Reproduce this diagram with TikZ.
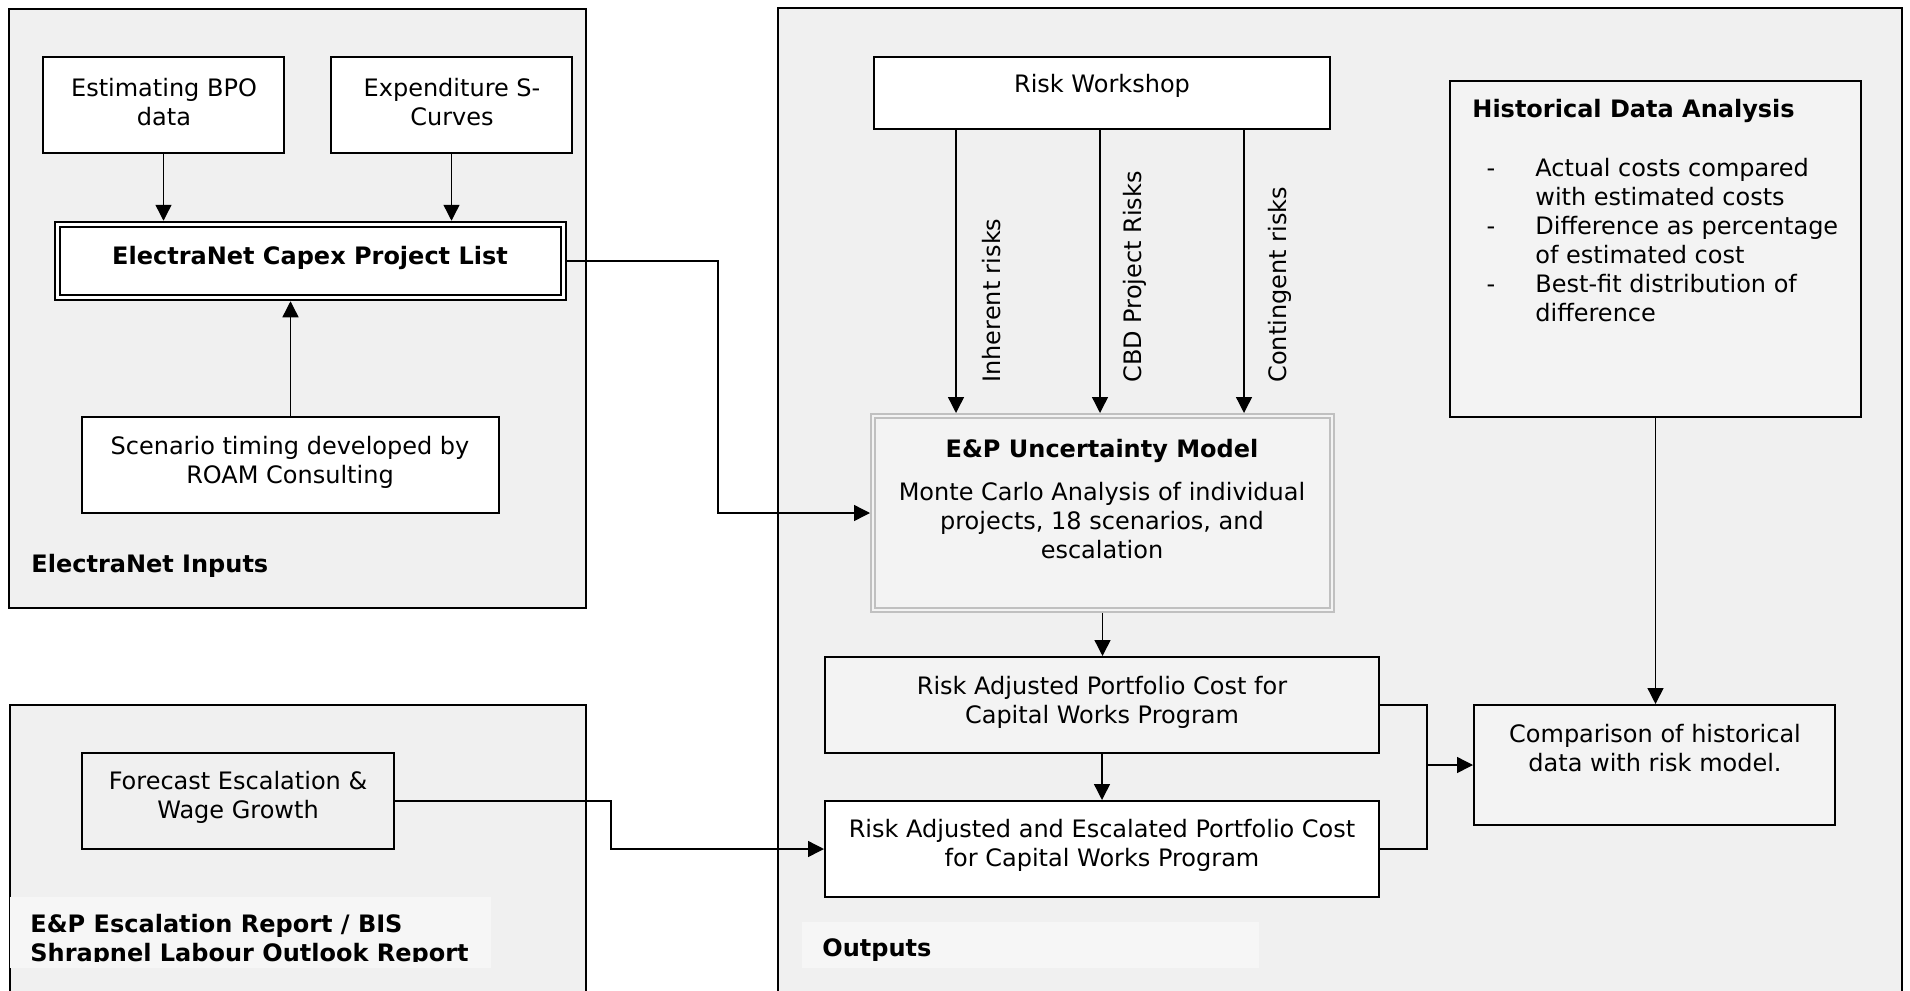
\documentclass[tikz,border=0pt]{standalone}
\usepackage{fontspec}
\setmainfont{DejaVu Sans}
\usetikzlibrary{arrows.meta,fit,calc}
\definecolor{panelgray}{RGB}{240,240,240}
\definecolor{boxgray}{RGB}{243,243,243}
\definecolor{lblgray}{RGB}{246,246,246}
\definecolor{unclines}{RGB}{192,192,192}
\begin{document}
\begin{tikzpicture}[x=0.5pt,y=-0.5pt,
  every node/.style={font=\fontsize{12}{14.5}\selectfont},
  panel/.style={draw=black, line width=1pt, fill=panelgray, inner sep=0pt},
  wbox/.style={draw=black, line width=1pt, fill=white, inner sep=0pt},
  gbox/.style={draw=black, line width=1pt, fill=boxgray, inner sep=0pt},
  pbox/.style={draw=black, line width=1pt, fill=panelgray, inner sep=0pt},
  txt/.style={align=center, inner sep=0pt},
  ltxt/.style={align=left, inner sep=0pt},
  conn/.style={line width=0.7pt},
  arr/.style={conn, -{Triangle[length=8pt,width=8pt]}},
]
\path[use as bounding box] (0,0) rectangle (1910,990);
\fill[white] (0,0) rectangle (1910,990);
\clip (0,0) rectangle (1910,990);

% ---------- panels ----------
\node[panel, fit={(9,9) (586,608)}] (pin) {};
\node[panel, fit={(10,705) (586,1010)}] (pesc) {};
\node[panel, fit={(778,8) (1902,1010)}] (pout) {};

% ---------- ElectraNet Inputs ----------
\node[wbox, fit={(43,57) (284,153)}] (est) {};
\node[txt] (esttxt) at (164,102) {Estimating BPO\\data};
\node[wbox, fit={(331,57) (572,153)}] (exp) {};
\node[txt] (exptxt) at (452,102) {Expenditure S-\\Curves};
\node[wbox, line width=1.25pt, fit={(55,222) (566,300)}] (capex) {};
\draw[line width=1pt] ([shift={(6,6)}]capex.north west) rectangle ([shift={(-6,-6)}]capex.south east);
\node[txt, font=\fontsize{12}{14.5}\selectfont\bfseries] (capextxt) at (310,258) {ElectraNet Capex Project List};
\node[wbox, fit={(82,417) (499,513)}] (scen) {};
\node[txt] (scentxt) at (290,462) {Scenario timing developed by\\ROAM Consulting};
\node[ltxt, anchor=west, font=\fontsize{12}{14.5}\selectfont\bfseries] (inlbl) at (31,566) {ElectraNet Inputs};

\draw[arr] (est.south) -- (est.south |- capex.north);
\draw[arr] (exp.south) -- (exp.south |- capex.north);
\draw[arr] (scen.north) -- (scen.north |- capex.south);

% ---------- Escalation panel ----------
\node[pbox, fit={(82,753) (394,849)}] (fc) {};
\node[txt] (fctxt) at (238,797) {Forecast Escalation \&\\Wage Growth};
\fill[lblgray] (10,897) rectangle (491,968);
\begin{scope}
  \clip (10,897) rectangle (491,961);
  \node[ltxt, anchor=north west, font=\fontsize{12}{14.5}\selectfont\bfseries] (esclbl) at (30,914) {E\&P Escalation Report / BIS\\Shrapnel Labour Outlook Report};
\end{scope}

% ---------- Outputs panel ----------
\node[wbox, fit={(874,57) (1330,129)}] (rw) {};
\node[txt] (rwtxt) at (1102,86) {Risk Workshop};

\node[draw=unclines, line width=1pt, fill=boxgray, inner sep=0pt, fit={(871,414) (1334,612)}] (unc) {};
\draw[draw=unclines, line width=1pt] ([shift={(5,5)}]unc.north west) rectangle ([shift={(-5,-5)}]unc.south east);
\node[txt, font=\fontsize{12}{14.5}\selectfont\bfseries] (unctitle) at (1102,451) {E\&P Uncertainty Model};
\node[txt] (unctxt) at (1102,521) {Monte Carlo Analysis of individual\\projects, 18 scenarios, and\\escalation};

\coordinate (ia) at (956,0);
\coordinate (ib) at (1100,0);
\coordinate (ic) at (1244,0);
\draw[arr] (ia |- rw.south) -- (ia |- unc.north);
\draw[arr] (ib |- rw.south) -- (ib |- unc.north);
\draw[arr] (ic |- rw.south) -- (ic |- unc.north);
\node[rotate=90, anchor=west, inner sep=0pt] (lblA) at (992,383) {Inherent risks};
\node[rotate=90, anchor=west, inner sep=0pt] (lblB) at (1135,383) {CBD Project Risks};
\node[rotate=90, anchor=west, inner sep=0pt] (lblC) at (1280,383) {Contingent risks};

\node[gbox, fit={(825,657) (1379,753)}] (ra) {};
\node[txt] (ratxt) at (1102,702) {Risk Adjusted Portfolio Cost for\\Capital Works Program};
\node[wbox, fit={(825,801) (1379,897)}] (rae) {};
\node[txt] (raetxt) at (1102,845) {Risk Adjusted and Escalated Portfolio Cost\\for Capital Works Program};

\node[gbox, fit={(1450,81) (1861,417)}] (hist) {};
\node[ltxt, anchor=west, font=\fontsize{12}{14.5}\selectfont\bfseries] (histtitle) at (1472,111) {Historical Data Analysis};
\node[inner sep=0pt] (d1) at (1491,173) {-};
\node[inner sep=0pt] (d2) at (1491,231) {-};
\node[inner sep=0pt] (d3) at (1491,289) {-};
\node[ltxt, anchor=west] (histtxt) at (1535,240) {Actual costs compared\\with estimated costs\\Difference as percentage\\of estimated cost\\Best-fit distribution of\\difference};

\node[gbox, fit={(1474,705) (1835,825)}] (comp) {};
\node[txt] (comptxt) at (1655,748) {Comparison of historical\\data with risk model.};

\fill[lblgray] (802,922) rectangle (1259,968);
\node[ltxt, anchor=west, font=\fontsize{12}{14.5}\selectfont\bfseries] (outlbl) at (822,950) {Outputs};

% ---------- connectors ----------
\coordinate (j1) at (718,261);
\draw[arr] (capex.east) -- (capex.east -| j1) -- (j1 |- unc.west) -- (unc.west);
\coordinate (j2) at (611,801);
\draw[arr] (fc.east) -- (fc.east -| j2) -- (j2 |- rae.west) -- (rae.west);
\draw[arr] (unc.south) -- (unc.south |- ra.north);
\draw[arr] (ra.south) -- (ra.south |- rae.north);
\coordinate (j3) at (1427,765);
\draw[conn] (ra.east) -- (ra.east -| j3) -- (j3 |- rae.east) -- (rae.east);
\draw[arr] (j3) -- (j3 -| comp.west);
\draw[arr] (hist.south) -- (hist.south |- comp.north);
\end{tikzpicture}
\end{document}
